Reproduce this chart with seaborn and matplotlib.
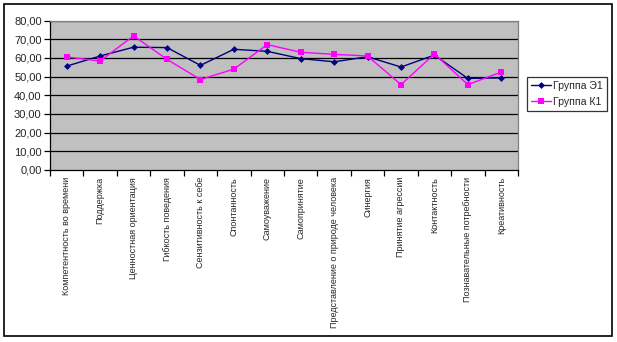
import matplotlib
matplotlib.use("Agg")
import matplotlib.pyplot as plt
from matplotlib.patches import Rectangle
from matplotlib.lines import Line2D
import seaborn as sns
import pandas as pd
import numpy as np

categories = [
    "Компетентность во времени",
    "Поддержка",
    "Ценностная ориентация",
    "Гибкость поведения",
    "Сензитивность к себе",
    "Спонтанность",
    "Самоуважение",
    "Самопринятие",
    "Представление о природе человека",
    "Синергия",
    "Принятие агрессии",
    "Контактность",
    "Познавательные потребности",
    "Креативность",
]
group_e1 = [55.6, 61.0, 65.7, 65.5, 56.0, 64.6, 63.5, 59.6, 57.9, 60.6, 55.1, 61.5, 49.0, 49.3]
group_k1 = [60.5, 58.3, 71.8, 59.2, 48.4, 54.0, 67.1, 63.0, 61.9, 61.0, 45.7, 62.1, 45.7, 52.4]
series_names = ["Группа Э1", "Группа К1"]
y_ticks = [0, 10, 20, 30, 40, 50, 60, 70, 80]

sns.set_theme(style="white")
plt.rcParams["font.family"] = ["Liberation Sans", "DejaVu Sans"]

pos = np.arange(len(categories))
df = pd.DataFrame({
    "pos": np.concatenate([pos, pos]),
    "value": group_e1 + group_k1,
    "group": [series_names[0]] * len(pos) + [series_names[1]] * len(pos),
})

fig = plt.figure(figsize=(6.17, 3.42), dpi=100)
fig.patch.set_facecolor("white")
ax = fig.add_axes([50 / 617, 1 - 170 / 342, (518 - 50) / 617, (170 - 20.5) / 342])
ax.set_facecolor("#C0C0C0")

sns.lineplot(
    data=df, x="pos", y="value", hue="group", style="group",
    palette={series_names[0]: "#000080", series_names[1]: "#FF00FF"},
    markers={series_names[0]: "D", series_names[1]: "s"},
    dashes=False, ax=ax, legend=False, zorder=3,
)
lines = ax.get_lines()
lines[0].set_linewidth(1.0)
lines[0].set_markersize(3.5)
lines[0].set_markeredgewidth(0)
lines[1].set_linewidth(1.0)
lines[1].set_markersize(5)
lines[1].set_markeredgewidth(0)

ax.set_xlim(-0.5, len(categories) - 0.5)
ax.set_ylim(0, 80)
ax.set_yticks(y_ticks)
ax.set_yticklabels([f"{v:.2f}".replace(".", ",") for v in y_ticks], fontsize=8)
for v in y_ticks[1:]:
    ax.axhline(v, color="black", linewidth=0.9, zorder=1)

# category boundaries get tick marks; labels sit at category centres
ax.set_xticks(np.arange(-0.5, len(categories), 1.0))
ax.set_xticklabels([])
ax.set_xticks(pos, minor=True)
ax.set_xticklabels(categories, minor=True, rotation=90, fontsize=6.5, va="top", ha="center")
ax.tick_params(axis="x", which="major", direction="out", length=4, width=0.9, color="black", bottom=True)
ax.tick_params(axis="x", which="minor", length=0, pad=5)
ax.tick_params(axis="y", direction="out", length=4, width=0.9, color="black", left=True, pad=2)
ax.set_xlabel("")
ax.set_ylabel("")

for side in ["top", "right"]:
    ax.spines[side].set_color("#808080")
    ax.spines[side].set_linewidth(0.9)
for side in ["left", "bottom"]:
    ax.spines[side].set_color("black")
    ax.spines[side].set_linewidth(0.9)

handles = [
    Line2D([], [], color="#000080", marker="D", markersize=3.5, markeredgewidth=0, linewidth=1.0),
    Line2D([], [], color="#FF00FF", marker="s", markersize=5, markeredgewidth=0, linewidth=1.0),
]
leg = fig.legend(
    handles, series_names, loc="center left",
    bbox_to_anchor=(527 / 617, 1 - 94 / 342),
    fontsize=7.6, frameon=True, fancybox=False, shadow=False,
    handlelength=1.9, handletextpad=0.15, borderpad=0.4, labelspacing=0.6,
    borderaxespad=0,
)
leg.get_frame().set_edgecolor("black")
leg.get_frame().set_linewidth(0.9)

# outer chart border
fig.patches.append(Rectangle((4 / 617, 1 - 336 / 342), 608 / 617, 332 / 342,
                             transform=fig.transFigure, fill=False,
                             edgecolor="black", linewidth=1.2))

fig.savefig("out.png", dpi=100)
